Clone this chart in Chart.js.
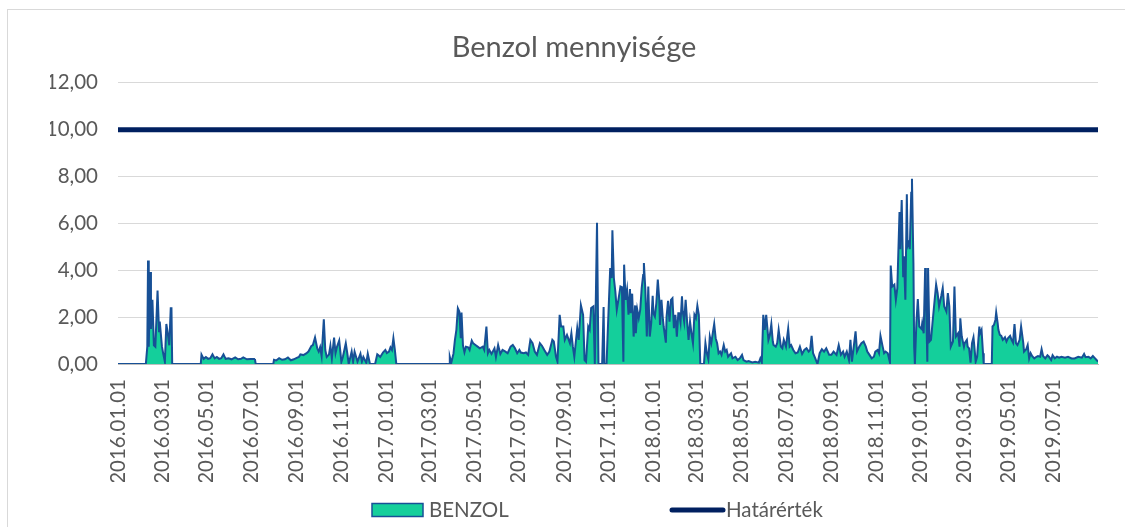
<!DOCTYPE html>
<html>
<head>
<meta charset="utf-8">
<script src="https://cdn.jsdelivr.net/npm/chart.js@4.4.1/dist/chart.umd.min.js"></script>
<style>
  html, body { margin: 0; padding: 0; background: #fff; overflow: hidden; }
  #box { position: absolute; left: 7px; top: 9px; width: 1117px; height: 517px; border-left: 1px solid #d9d9d9; border-top: 1px solid #d9d9d9; }
</style>
</head>
<body>
<div id="box"><canvas id="benzolChart"></canvas></div>
<script>
const chartTitle = "Benzol mennyisége"
const seriesName = "BENZOL"
const limitName = "Határérték"
const limitValue = 10

const tickLabels = [
  "2016.01.01", "2016.03.01", "2016.05.01", "2016.07.01", "2016.09.01", "2016.11.01",
  "2017.01.01", "2017.03.01", "2017.05.01", "2017.07.01", "2017.09.01", "2017.11.01",
  "2018.01.01", "2018.03.01", "2018.05.01", "2018.07.01", "2018.09.01", "2018.11.01",
  "2019.01.01", "2019.03.01", "2019.05.01", "2019.07.01",
]

// measurement dates (one line per month)
const dates = [
  "2016.01.01",
  "2016.02.08", "2016.02.10", "2016.02.11", "2016.02.12", "2016.02.14", "2016.02.15", "2016.02.17", "2016.02.19", "2016.02.21", "2016.02.24", "2016.02.26", "2016.02.27",
  "2016.03.01", "2016.03.03", "2016.03.05", "2016.03.07", "2016.03.09", "2016.03.11", "2016.03.13", "2016.03.14", "2016.03.15",
  "2016.04.23", "2016.04.24", "2016.04.27", "2016.04.30",
  "2016.05.03", "2016.05.06", "2016.05.09", "2016.05.12", "2016.05.15", "2016.05.18", "2016.05.21", "2016.05.24", "2016.05.27", "2016.05.31",
  "2016.06.04", "2016.06.09", "2016.06.13", "2016.06.17", "2016.06.20", "2016.06.25", "2016.06.30",
  "2016.07.05", "2016.07.06", "2016.07.07", "2016.07.31",
  "2016.08.01", "2016.08.04", "2016.08.08", "2016.08.12", "2016.08.16", "2016.08.20", "2016.08.24", "2016.08.28",
  "2016.09.01", "2016.09.04", "2016.09.06", "2016.09.10", "2016.09.14", "2016.09.17", "2016.09.21", "2016.09.23", "2016.09.26", "2016.09.29",
  "2016.10.01", "2016.10.03", "2016.10.05", "2016.10.08", "2016.10.10", "2016.10.12", "2016.10.15", "2016.10.17", "2016.10.19", "2016.10.22", "2016.10.24", "2016.10.26", "2016.10.29",
  "2016.11.01", "2016.11.03", "2016.11.07", "2016.11.09", "2016.11.11", "2016.11.15", "2016.11.17", "2016.11.19", "2016.11.23", "2016.11.27", "2016.11.29",
  "2016.12.01", "2016.12.05", "2016.12.07", "2016.12.10", "2016.12.17", "2016.12.20", "2016.12.22", "2016.12.24", "2016.12.28", "2016.12.31",
  "2017.01.02", "2017.01.05", "2017.01.07", "2017.01.09", "2017.01.11", "2017.01.13", "2017.01.15",
  "2017.03.28", "2017.03.29", "2017.03.31",
  "2017.04.03", "2017.04.05", "2017.04.07", "2017.04.09", "2017.04.11", "2017.04.13", "2017.04.14", "2017.04.16", "2017.04.18", "2017.04.20", "2017.04.23", "2017.04.25", "2017.04.28", "2017.04.30",
  "2017.05.03", "2017.05.06", "2017.05.09", "2017.05.13", "2017.05.15", "2017.05.18", "2017.05.20", "2017.05.22", "2017.05.25", "2017.05.29", "2017.05.31",
  "2017.06.03", "2017.06.06", "2017.06.09", "2017.06.13", "2017.06.16", "2017.06.20", "2017.06.23", "2017.06.26", "2017.06.29",
  "2017.07.02", "2017.07.04", "2017.07.08", "2017.07.11", "2017.07.14", "2017.07.17", "2017.07.20", "2017.07.23", "2017.07.26", "2017.07.30",
  "2017.08.02", "2017.08.05", "2017.08.09", "2017.08.12", "2017.08.16", "2017.08.18", "2017.08.21", "2017.08.23", "2017.08.26", "2017.08.28", "2017.08.31",
  "2017.09.02", "2017.09.05", "2017.09.09", "2017.09.11", "2017.09.13", "2017.09.15", "2017.09.19", "2017.09.21", "2017.09.24", "2017.09.27", "2017.09.29",
  "2017.10.01", "2017.10.04", "2017.10.06", "2017.10.08", "2017.10.11", "2017.10.13", "2017.10.16", "2017.10.18", "2017.10.23", "2017.10.25", "2017.10.26", "2017.10.29",
  "2017.11.01", "2017.11.03", "2017.11.05", "2017.11.06", "2017.11.08", "2017.11.10", "2017.11.12", "2017.11.15", "2017.11.17", "2017.11.19", "2017.11.21", "2017.11.22", "2017.11.24", "2017.11.26", "2017.11.28", "2017.11.30",
  "2017.12.01", "2017.12.03", "2017.12.05", "2017.12.07", "2017.12.08", "2017.12.10", "2017.12.12", "2017.12.14", "2017.12.16", "2017.12.18", "2017.12.19", "2017.12.21", "2017.12.23", "2017.12.25", "2017.12.27", "2017.12.29", "2017.12.31",
  "2018.01.01", "2018.01.03", "2018.01.05", "2018.01.07", "2018.01.09", "2018.01.10", "2018.01.12", "2018.01.14", "2018.01.15", "2018.01.18", "2018.01.19", "2018.01.21", "2018.01.23", "2018.01.25", "2018.01.27", "2018.01.29", "2018.01.31",
  "2018.02.02", "2018.02.04", "2018.02.05", "2018.02.07", "2018.02.09", "2018.02.10", "2018.02.12", "2018.02.14", "2018.02.16", "2018.02.18", "2018.02.20", "2018.02.22", "2018.02.24", "2018.02.26", "2018.02.28",
  "2018.03.02", "2018.03.04", "2018.03.06", "2018.03.11", "2018.03.13", "2018.03.15", "2018.03.17", "2018.03.19", "2018.03.21", "2018.03.23", "2018.03.25", "2018.03.27", "2018.03.29", "2018.03.31",
  "2018.04.02", "2018.04.04", "2018.04.07", "2018.04.09", "2018.04.11", "2018.04.13", "2018.04.17", "2018.04.19", "2018.04.23", "2018.04.26", "2018.04.29",
  "2018.05.02", "2018.05.04", "2018.05.08", "2018.05.11", "2018.05.16", "2018.05.20", "2018.05.25", "2018.05.27", "2018.05.29", "2018.05.31",
  "2018.06.02", "2018.06.04", "2018.06.07", "2018.06.09", "2018.06.11", "2018.06.13", "2018.06.14", "2018.06.17", "2018.06.19", "2018.06.21", "2018.06.24", "2018.06.26", "2018.06.28",
  "2018.07.01", "2018.07.04", "2018.07.06", "2018.07.08", "2018.07.11", "2018.07.14", "2018.07.17", "2018.07.20", "2018.07.23", "2018.07.26", "2018.07.29",
  "2018.08.01", "2018.08.03", "2018.08.05", "2018.08.07", "2018.08.10", "2018.08.13", "2018.08.16", "2018.08.19", "2018.08.22", "2018.08.25", "2018.08.29",
  "2018.09.01", "2018.09.04", "2018.09.08", "2018.09.11", "2018.09.14", "2018.09.17", "2018.09.19", "2018.09.22", "2018.09.25", "2018.09.27", "2018.09.29",
  "2018.10.01", "2018.10.04", "2018.10.06", "2018.10.09", "2018.10.12", "2018.10.15", "2018.10.18", "2018.10.20", "2018.10.23", "2018.10.26", "2018.10.29", "2018.10.31",
  "2018.11.03", "2018.11.05", "2018.11.07", "2018.11.10", "2018.11.12", "2018.11.14", "2018.11.17", "2018.11.20", "2018.11.21", "2018.11.23", "2018.11.26", "2018.11.28", "2018.11.30",
  "2018.12.03", "2018.12.04", "2018.12.06", "2018.12.08", "2018.12.09", "2018.12.11", "2018.12.13", "2018.12.14", "2018.12.16", "2018.12.17", "2018.12.19", "2018.12.20", "2018.12.22", "2018.12.23", "2018.12.24", "2018.12.26", "2018.12.28", "2018.12.30",
  "2019.01.02", "2019.01.03", "2019.01.05", "2019.01.07", "2019.01.08", "2019.01.10", "2019.01.11", "2019.01.13", "2019.01.15", "2019.01.17", "2019.01.20", "2019.01.22", "2019.01.24", "2019.01.26", "2019.01.29", "2019.01.31",
  "2019.02.02", "2019.02.05", "2019.02.07", "2019.02.09", "2019.02.11", "2019.02.14", "2019.02.16", "2019.02.18", "2019.02.21", "2019.02.23", "2019.02.24", "2019.02.26",
  "2019.03.01", "2019.03.02", "2019.03.05", "2019.03.06", "2019.03.08", "2019.03.10", "2019.03.12", "2019.03.14", "2019.03.15", "2019.03.17", "2019.03.19", "2019.03.22", "2019.03.23", "2019.03.25", "2019.03.27", "2019.03.28",
  "2019.04.08", "2019.04.09", "2019.04.11", "2019.04.13", "2019.04.14", "2019.04.16", "2019.04.17", "2019.04.19", "2019.04.21", "2019.04.23", "2019.04.26", "2019.04.28", "2019.04.30",
  "2019.05.03", "2019.05.05", "2019.05.07", "2019.05.09", "2019.05.11", "2019.05.13", "2019.05.16", "2019.05.18", "2019.05.21", "2019.05.22", "2019.05.25", "2019.05.27", "2019.05.29", "2019.05.31",
  "2019.06.02", "2019.06.05", "2019.06.08", "2019.06.10", "2019.06.13", "2019.06.15", "2019.06.17", "2019.06.20", "2019.06.23", "2019.06.25", "2019.06.28", "2019.06.30",
  "2019.07.03", "2019.07.06", "2019.07.09", "2019.07.12", "2019.07.17", "2019.07.21", "2019.07.26", "2019.07.30",
  "2019.08.04", "2019.08.09", "2019.08.12", "2019.08.14", "2019.08.18", "2019.08.21", "2019.08.24", "2019.08.27", "2019.08.29", "2019.08.31",
]

// benzol values, same layout as dates
const benzol = [
  0,
  0, 0.74, 4.42, 0.74, 3.93, 1.5, 2.74, 0.8, 0.74, 3.14, 1.4, 1.81,
  0.74, 0.4, 0.1, 1.71, 1.3, 0.8, 2.38, 2.38, 0,
  0, 0.4, 0.22, 0.3,
  0.22, 0.25, 0.41, 0.24, 0.3, 0.22, 0.25, 0.41, 0.22, 0.24,
  0.2, 0.28, 0.2, 0.22, 0.28, 0.2, 0.21,
  0.21, 0.2, 0, 0,
  0.18, 0.15, 0.25, 0.18, 0.2, 0.28, 0.16, 0.2,
  0.26, 0.3, 0.41, 0.38, 0.45, 0.53, 0.77, 0.8, 1.13, 0.67,
  0.53, 0.72, 0.34, 1.91, 0.6, 0.3, 0.4, 0.78, 0.24, 1.13, 0.47, 0.74, 1.0,
  0.09, 0.3, 0.88, 0.47, 0, 0.53, 0.1, 0.53, 0.1, 0.44, 0.1,
  0.3, 0.05, 0.44, 0, 0, 0.41, 0.36, 0.3, 0.5, 0.6,
  0.47, 0.53, 0.71, 0.6, 1.1, 0.6, 0,
  0, 0.3, 0.05,
  0.44, 1.03, 1.46, 2.38, 2.24, 1.1, 2.2, 0.79, 0.5, 0.74, 0.71, 0.6, 1.0, 0.88,
  0.81, 0.74, 0.67, 0.74, 0.6, 1.6, 0.46, 0.6, 0.43, 0.67, 0.3,
  0.81, 0.43, 0.6, 0.53, 0.46, 0.74, 0.81, 0.67, 0.46,
  0.6, 0.49, 0.46, 0.49, 0.39, 1.03, 0.89, 0.53, 0.39, 0.89,
  0.77, 0.6, 0.39, 0.53, 1.03, 0.96, 0.31, 0.1, 2.1, 1.6, 1.6,
  1.03, 1.24, 0.89, 1.31, 0.74, 0.31, 1.53, 1.03, 2.51, 2.1, 0.17,
  0.1, 1.6, 1.46, 2.39, 2.46, 0, 6.03, 0, 0, 2.43, 0, 0,
  2.46, 4.1, 3.67, 5.71, 3.67, 3.1, 2.31, 2.9, 3.31, 3.28, 0.1, 4.24, 2.74, 3.17, 2.1, 3.2,
  2.17, 3.0, 1.17, 2.5, 1.31, 2.31, 1.96, 2.31, 3.24, 3.8, 4.31, 3.17, 1.17, 3.31, 1.17, 1.74, 2.91,
  2.17, 2.03, 2.6, 3.6, 2.74, 1.67, 2.74, 1.89, 1.6, 0.91, 2.03, 2.7, 1.81, 2.74, 2.81, 1.53, 2.1,
  1.17, 2.17, 2.17, 1.77, 2.89, 2.24, 1.81, 2.74, 1.81, 1.03, 1.81, 1.3, 0.89, 2.1, 1.96,
  2.49, 2.1, 0, 0, 0.89, 0.46, 0.2, 1.17, 0.89, 1.31, 1.71, 1.1, 0.89, 0.46,
  0.53, 0.39, 0.81, 0.53, 0.6, 0.31, 0.46, 0.24, 0.31, 0.17, 0.24,
  0.39, 0.17, 0.1, 0.13, 0.07, 0.1, 0.06, 0.24, 0.07, 2.1,
  1.46, 2.1, 1.03, 1.24, 1.7, 0.96, 0.81, 0.74, 0.89, 1.46, 0.74, 0.67, 1.03,
  0.74, 1.5, 0.74, 0.81, 0.6, 0.46, 0.49, 0.74, 0.43, 0.6, 0.67,
  0.53, 0.6, 1.2, 0.46, 0.24, 0, 0.46, 0.63, 0.53, 0.67, 0.39,
  0.39, 0.53, 0.39, 0.81, 0.39, 0.53, 0.31, 0.53, 0.17, 1.03, 0.1,
  0.6, 1.39, 0.53, 0.74, 0.89, 0.96, 0.74, 0.53, 0.39, 0.24, 0.31, 0.53,
  0.6, 0.46, 1.2, 0.74, 0.46, 0.53, 0.46, 0.06, 4.2, 3.3, 3.39, 2.74, 3.24,
  6.49, 4.9, 7.0, 3.74, 4.6, 2.74, 7.24, 5.03, 5.2, 4.9, 7.31, 7.91, 4.3, 0.74, 0, 1.74, 2.77, 1.6,
  1.5, 1.74, 1.31, 4.1, 3.03, 0.1, 4.1, 0.96, 1.03, 1.74, 2.74, 3.39, 3.03, 2.46, 2.9, 3.24,
  2.46, 2.24, 3.03, 2.46, 0.74, 0.96, 3.31, 1.17, 1.31, 0.74, 1.95, 1.17,
  0.74, 0.89, 1.03, 0.74, 0.67, 0.06, 0.89, 1.14, 0.81, 0.1, 0.31, 1.6, 1.31, 1.46, 0.46, 0,
  0, 1.6, 1.67, 1.89, 2.2, 1.74, 1.46, 1.24, 1.2, 1.03, 1.14, 0.96, 1.1,
  1.2, 1.03, 0.91, 1.7, 0.89, 0.81, 1.03, 1.6, 0.89, 0.53, 0.63, 0.81, 0.24, 0.46,
  0.34, 0.24, 0.31, 0.34, 0.31, 0.63, 0.34, 0.24, 0.37, 0.31, 0.17, 0.37,
  0.24, 0.31, 0.27, 0.31, 0.27, 0.31, 0.24, 0.24,
  0.31, 0.27, 0.43, 0.29, 0.31, 0.24, 0.34, 0.24, 0.17, 0.1,
]

if (dates.length !== benzol.length) console.error("dates/benzol length mismatch", dates.length, benzol.length)

// day number counted from 2016.01.01
const dayOf = (s) => {
  const [y, m, d] = s.split(".").map(Number)
  return (Date.UTC(y, m - 1, d) - Date.UTC(2016, 0, 1)) / 86400000
}

const textColor = "#595959"
const tickFont = { family: "Lato", size: 20.5 }

// legend drawn under the axis labels, like the original
const bottomLegend = {
  id: "bottomLegend",
  afterDraw(chart) {
    const ctx = chart.ctx
    const left = chart.chartArea.left
    const ds = chart.data.datasets
    const y = 500
    ctx.save()
    ctx.font = "20.5px Lato"
    ctx.textBaseline = "middle"
    // area series: filled box
    let x = left + 254
    ctx.fillStyle = ds[0].backgroundColor
    ctx.fillRect(x, y - 6.5, 51, 13)
    ctx.strokeStyle = ds[0].borderColor
    ctx.lineWidth = 1.5
    ctx.strokeRect(x, y - 6.5, 51, 13)
    ctx.fillStyle = textColor
    ctx.fillText(ds[0].label, x + 57, y)
    // limit line: thick stroke
    x = left + 552
    ctx.strokeStyle = ds[1].borderColor
    ctx.lineWidth = 5
    ctx.lineCap = "round"
    ctx.beginPath()
    ctx.moveTo(x + 2, y)
    ctx.lineTo(x + 53, y)
    ctx.stroke()
    ctx.fillText(ds[1].label, x + 56, y)
    ctx.restore()
  },
}

const ctx = document.getElementById("benzolChart").getContext("2d")
new Chart(ctx, {
  type: "line",
  data: {
    datasets: [
      {
        label: seriesName,
        data: dates.map((d, i) => ({ x: dayOf(d), y: benzol[i] })),
        borderColor: "#175096",
        backgroundColor: "#14cf9b",
        borderWidth: 2,
        fill: "origin",
        pointRadius: 0,
        tension: 0,
      },
      {
        label: limitName,
        data: [dates[0], dates[dates.length - 1]].map((d) => ({ x: dayOf(d), y: limitValue })),
        borderColor: "#002060",
        borderWidth: 5,
        fill: false,
        pointRadius: 0,
      },
    ],
  },
  options: {
    responsive: true,
    maintainAspectRatio: false,
    animation: false,
    layout: { padding: { left: 42, right: 27, top: 0, bottom: 45 } },
    plugins: {
      legend: { display: false },
      tooltip: { enabled: false },
      title: {
        display: true,
        text: chartTitle,
        color: textColor,
        font: { family: "Lato", size: 29, weight: "normal" },
        padding: { top: 20, bottom: 18 },
      },
    },
    scales: {
      x: {
        type: "linear",
        min: dayOf(dates[0]),
        max: dayOf(dates[dates.length - 1]),
        afterBuildTicks: (scale) => {
          scale.ticks = tickLabels.map((t) => ({ value: dayOf(t) }))
        },
        afterFit: (scale) => {
          scale.height = 118
        },
        ticks: {
          autoSkip: false,
          minRotation: 90,
          maxRotation: 90,
          padding: 15,
          color: textColor,
          font: tickFont,
          callback: (value, index) => tickLabels[index],
        },
        grid: { drawOnChartArea: false, drawTicks: false },
        border: { display: true, color: "#bfbfbf", width: 1 },
      },
      y: {
        min: 0,
        max: 12,
        afterFit: (scale) => {
          scale.width = 68
        },
        ticks: {
          stepSize: 2,
          padding: 20,
          color: textColor,
          font: tickFont,
          callback: (value) => value.toFixed(2).replace(".", ","),
        },
        grid: { color: "#d9d9d9", drawTicks: false },
        border: { display: false },
      },
    },
  },
  plugins: [bottomLegend],
})
</script>
</body>
</html>
